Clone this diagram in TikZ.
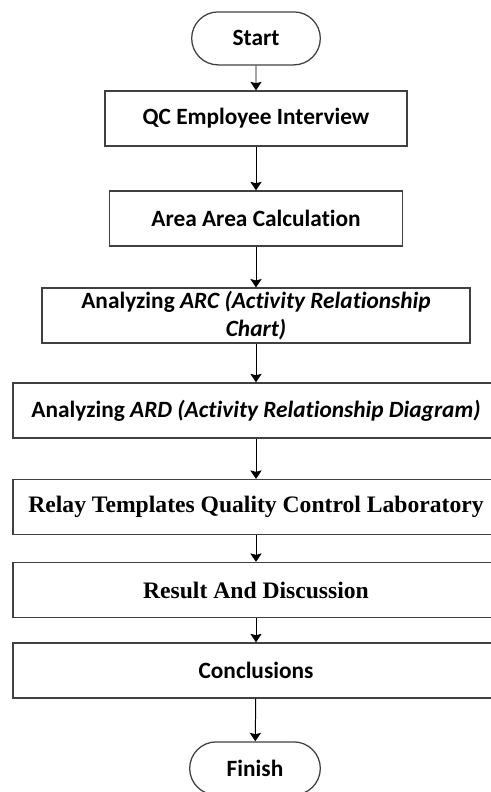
\documentclass[tikz,border=0pt]{standalone}
\usepackage{fontspec}
\setmainfont{Carlito}[Ligatures=NoCommon]
\newfontfamily\timesfont{Liberation Serif}
\usetikzlibrary{shapes.misc, arrows.meta}

\tikzset{
	stepbox/.style={draw=black!75, line width=0.9pt, rectangle, minimum height=1.375cm, inner sep=2pt, font=\fontsize{16.6}{20}\selectfont\bfseries},
	terminal/.style={draw=black!75, line width=0.9pt, rounded rectangle, minimum width=3.45cm, minimum height=1.325cm, font=\fontsize{16.6}{20}\selectfont\bfseries},
	serifbox/.style={stepbox, font=\fontsize{16.8}{20}\selectfont\timesfont\bfseries},
}

\begin{document}
\begin{tikzpicture}[>={Stealth[length=6pt, width=8pt, inset=1pt]}]
		\useasboundingbox (0,0) rectangle (12.275,19.8);
		
		\node[terminal] (start) at (6.4,18.84) {Start};
		\node[stepbox, minimum width=7.55cm] (qc) at (6.4,16.84) {QC Employee Interview};
		\node[stepbox, minimum width=7.325cm] (area) at (6.4,14.34) {Area Area Calculation};
		\node[stepbox, minimum width=10.7cm, align=center] (arc) at (6.4,11.91) {Analyzing \textit{ARC (Activity Relationship}\\\textit{Chart)}};
		\node[stepbox, minimum width=12.15cm] (ard) at (6.4,9.54) {Analyzing \textit{ARD (Activity Relationship Diagram)}};
		
		\node[serifbox, minimum width=12.15cm] (relay) at (6.4,7.125) {Relay Templates Quality Control Laboratory};
		\node[serifbox, minimum width=12.15cm] (result) at (6.4,5.05) {Result And Discussion};
		\node[stepbox, minimum width=12.15cm] (concl) at (6.4,3.04) {Conclusions};
		
		\node[terminal, minimum width=3.5cm] (finish) at (6.375,0.59) {Finish};
		
		\path [line width=0.7pt]
		(start) edge[->] (qc)
		(qc) edge[->] (area)
		(area) edge[->] (arc)
		(arc) edge[->] (ard)
		(ard) edge[->] (relay)
		(relay) edge[->] (result)
		(result) edge[->] (concl)
		(concl) edge[->] (finish);
	\end{tikzpicture}
\end{document}
